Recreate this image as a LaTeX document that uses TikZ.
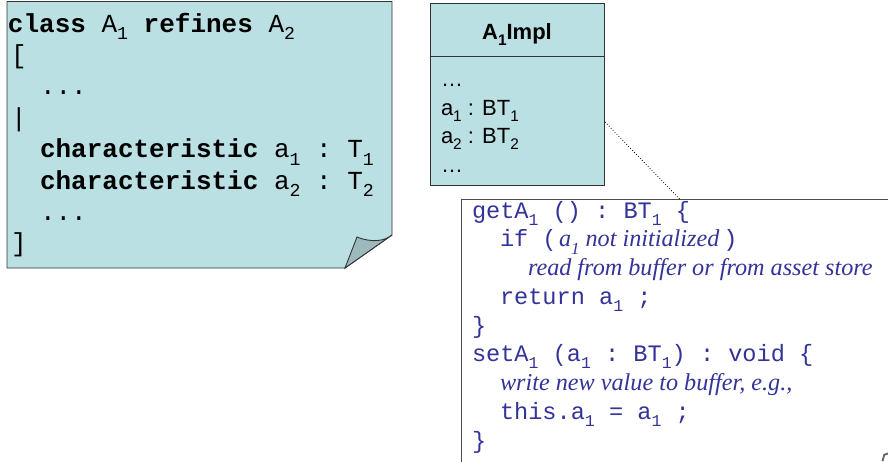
\documentclass[tikz,border=0pt]{standalone}
\usepackage{fontspec}
\setmainfont{Liberation Serif}
\setsansfont{Liberation Sans}
\setmonofont{Liberation Mono}
\definecolor{notefill}{HTML}{BBE0E3}
\definecolor{foldfill}{HTML}{9DB9BC}
\definecolor{codeblue}{HTML}{333399}
\newcommand\sbs[1]{\raisebox{-0.3em}{\scalebox{0.7}{#1}}}
\begin{document}
\begin{tikzpicture}[x=1pt,y=-1pt,
  lbl/.style={anchor=base west,inner sep=0pt,outer sep=0pt},
  leftcode/.style={lbl,font=\fontsize{26}{31}\selectfont\ttfamily},
  umltext/.style={lbl,font=\fontsize{22}{26}\selectfont\sffamily},
  code/.style={lbl,text=codeblue,font=\fontsize{23.6}{28}\selectfont\ttfamily},
  ital/.style={lbl,text=codeblue,font=\fontsize{24.2}{28}\selectfont\rmfamily\itshape},
  boxline/.style={draw=black!80,line width=0.9pt}]
\useasboundingbox (0,0) rectangle (888,461);
\begin{scope}
\clip (0,0) rectangle (888,461);
% left note
\path[boxline,fill=notefill] (7,1.5) -- (392,1.5) -- (392,235) -- (345,268) -- (7,268) -- cycle;
\path[boxline,fill=foldfill] (345,268) -- (357,237) .. controls (372,243) and (385,241) .. (392,235) -- cycle;
\node[leftcode] (l1) at (8,32) {\textbf{class} A\sbs{1} \textbf{refines} A\sbs{2}};
\node[leftcode] (l2) at (11,63.4) {[};
\node[leftcode] (l3) at (40,94.8) {...};
\node[leftcode] (l4) at (11,126.2) {|};
\node[leftcode] (l5) at (40,157.6) {\textbf{characteristic} a\sbs{1} : T\sbs{1}};
\node[leftcode] (l6) at (40,189) {\textbf{characteristic} a\sbs{2} : T\sbs{2}};
\node[leftcode] (l7) at (40,220.4) {...};
\node[leftcode] (l8) at (11,251.8) {]};
% UML class
\path[boxline,fill=notefill] (430.5,3.5) rectangle (604,185);
\draw[boxline] (430.5,56.5) -- (604,56.5);
\node[anchor=base,inner sep=0pt,font=\fontsize{22}{26}\selectfont\sffamily\bfseries] (title) at (517,39) {A\sbs{1}Impl};
\node[umltext] (u1) at (441,86) {\ldots};
\node[umltext] (u2) at (441,115) {a\sbs{1} : BT\sbs{1}};
\node[umltext] (u3) at (441,143) {a\sbs{2} : BT\sbs{2}};
\node[umltext] (u4) at (441,172) {\ldots};
\coordinate (ua) at (605,122);
% code note
\path[draw=black!70,line width=0.9pt,fill=white] (461,199.5) rectangle (900,480);
\coordinate (cb) at (680,199.5);
\draw[dotted,line width=0.8pt] (ua) -- (cb);
\path[fill=black!60] (881.5,461) -- (883.5,454) -- (888,452.5) -- (888,454.5) -- (885,455.5) -- (883.5,461) -- cycle;
\node[code] (c1) at (472,218) {getA\sbs{1} () : BT\sbs{1} \{};
\node[code] (c2) at (500,246.75) {if (\hspace{0.1em}{\fontsize{24.2}{28}\selectfont\rmfamily\itshape a\sbs{1} not initialized}\,)};
\node[ital] (c3) at (528,275.5) {read from buffer or from asset store};
\node[code] (c4) at (500,304.25) {return a\sbs{1} ;};
\node[code] (c5) at (472,333) {\}};
\node[code] (c6) at (472,361.75) {setA\sbs{1} (a\sbs{1} : BT\sbs{1}) : void \{};
\node[ital] (c7) at (500,390.5) {write new value to buffer, e.g.,};
\node[code] (c8) at (500,419.25) {this.a\sbs{1} = a\sbs{1} ;};
\node[code] (c9) at (472,448) {\}};
\end{scope}
\end{tikzpicture}
\end{document}
